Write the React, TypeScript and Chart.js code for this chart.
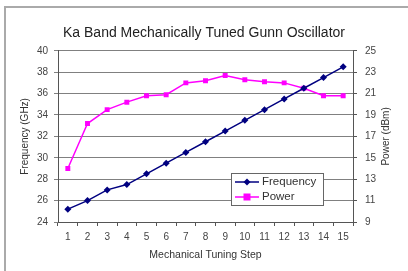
import React, { useEffect, useRef } from "react";
import { Chart, registerables } from "chart.js";

Chart.register(...registerables);

const steps = ["1", "2", "3", "4", "5", "6", "7", "8", "9", "10", "11", "12", "13", "14", "15"];
const frequencyGHz = [25.2, 26.0, 27.0, 27.5, 28.5, 29.5, 30.5, 31.5, 32.5, 33.5, 34.5, 35.5, 36.5, 37.5, 38.5];
const powerDBm = [14.0, 18.2, 19.5, 20.2, 20.8, 20.9, 22.0, 22.2, 22.7, 22.3, 22.1, 22.0, 21.5, 20.8, 20.8];
const rightAxisTitle = "Power (dBm)";

const FONT = "'Liberation Sans', Arial, sans-serif";

const legendPlugin = {
  id: "insideLegend",
  afterDraw(chart: any) {
    const ctx = chart.ctx;
    const x0 = 231, y0 = 173, w = 92, h = 32;
    ctx.save();
    ctx.fillStyle = "#fff";
    ctx.fillRect(x0, y0, w, h);
    ctx.strokeStyle = "#666";
    ctx.lineWidth = 1;
    ctx.strokeRect(x0 + 0.5, y0 + 0.5, w, h);
    chart.data.datasets.forEach((ds: any, i: number) => {
      const y = y0 + 9 + i * 15;
      ctx.strokeStyle = ds.borderColor;
      ctx.lineWidth = 1.5;
      ctx.beginPath();
      ctx.moveTo(x0 + 4, y);
      ctx.lineTo(x0 + 28, y);
      ctx.stroke();
      ctx.fillStyle = ds.backgroundColor;
      const cx = x0 + 16;
      if (ds.pointStyle === "rectRot") {
        ctx.beginPath();
        ctx.moveTo(cx, y - 3.5);
        ctx.lineTo(cx + 3.5, y);
        ctx.lineTo(cx, y + 3.5);
        ctx.lineTo(cx - 3.5, y);
        ctx.closePath();
        ctx.fill();
      } else {
        ctx.fillRect(cx - 3.5, y - 3.5, 7, 7);
      }
      ctx.fillStyle = "#333";
      ctx.font = "11.5px " + FONT;
      ctx.textBaseline = "middle";
      ctx.textAlign = "left";
      ctx.fillText(ds.label, x0 + 31, y);
    });
    // right axis title, reading bottom-to-top
    const ca = chart.chartArea;
    ctx.save();
    ctx.translate(386, (ca.top + ca.bottom) / 2);
    ctx.rotate(-Math.PI / 2);
    ctx.fillStyle = "#333";
    ctx.font = "10px " + FONT;
    ctx.textAlign = "center";
    ctx.textBaseline = "middle";
    ctx.fillText(rightAxisTitle, 0, 0);
    ctx.restore();
    ctx.restore();
  },
};

export default function App() {
  const ref = useRef<HTMLCanvasElement>(null);
  useEffect(() => {
    const chart = new Chart(ref.current!, {
      type: "line",
      data: {
        labels: steps,
        datasets: [
          {
            label: "Frequency",
            data: frequencyGHz,
            yAxisID: "y",
            borderColor: "#000080",
            backgroundColor: "#000080",
            borderWidth: 1.5,
            pointStyle: "rectRot",
            pointRadius: 3.5,
            pointBorderWidth: 0,
            tension: 0,
          },
          {
            label: "Power",
            data: powerDBm,
            yAxisID: "y1",
            borderColor: "#FF00FF",
            backgroundColor: "#FF00FF",
            borderWidth: 1.5,
            pointStyle: "rect",
            pointRadius: 3.5,
            pointBorderWidth: 0,
            tension: 0,
          },
        ],
      },
      plugins: [legendPlugin],
      options: {
        animation: false,
        responsive: false,
        maintainAspectRatio: false,
        layout: { padding: 0 },
        plugins: {
          legend: { display: false },
          tooltip: { enabled: false },
          title: {
            display: true,
            text: "Ka Band Mechanically Tuned Gunn Oscillator",
            color: "#222",
            font: { family: FONT, size: 14, weight: "normal" },
            padding: { top: 25, bottom: 9 },
          },
        },
        scales: {
          x: {
            offset: true,
            grid: { offset: true, drawOnChartArea: false, tickLength: 4, color: "#555" },
            border: { color: "#555" },
            ticks: { color: "#444", font: { family: FONT, size: 10 }, padding: 5, maxRotation: 0, autoSkip: false },
            title: {
              display: true,
              text: "Mechanical Tuning Step",
              color: "#333",
              font: { family: FONT, size: 10.5 },
              padding: { top: 0, bottom: 10 },
            },
            afterFit: (s: any) => { s.height = 49; },
          },
          y: {
            position: "left",
            min: 24,
            max: 40,
            grid: { color: "#808080", tickLength: 4 },
            border: { color: "#555" },
            ticks: { stepSize: 2, color: "#444", font: { family: FONT, size: 10 }, padding: 6 },
            title: {
              display: true,
              text: "Frequency (GHz)",
              color: "#333",
              font: { family: FONT, size: 10 },
              padding: { top: 19, bottom: 0 },
            },
            afterFit: (s: any) => { s.width = 58; },
          },
          y1: {
            position: "right",
            min: 9,
            max: 25,
            grid: { drawOnChartArea: false, tickLength: 4, color: "#555" },
            border: { color: "#555" },
            ticks: { stepSize: 2, color: "#444", font: { family: FONT, size: 10 }, padding: 8 },
            title: { display: false },
            afterFit: (s: any) => { s.width = 55; },
          },
        },
      },
    } as any);
    return () => chart.destroy();
  }, []);
  return (
    <div style={{ position: "absolute", left: 0, top: 0, width: 408, height: 271, background: "#fff" }}>
      <div style={{ position: "absolute", left: 4, top: 6, width: 404, height: 265, borderLeft: "2px solid #aaa", borderTop: "2px solid #aaa", boxSizing: "border-box" }} />
      <canvas ref={ref} width={408} height={271} style={{ position: "absolute", left: 0, top: 0, width: 408, height: 271 }} />
    </div>
  );
}
